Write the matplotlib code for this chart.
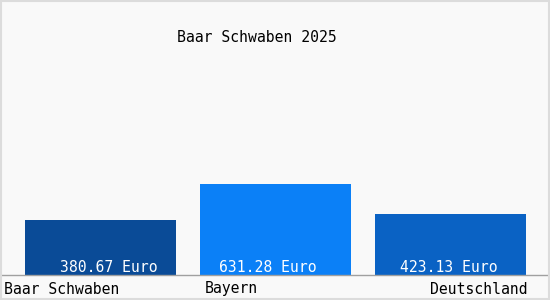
import numpy as np
import matplotlib
matplotlib.use('Agg')
import matplotlib.pyplot as plt

TITLE = 'Baar Schwaben 2025'
regions = ['Baar Schwaben', 'Bayern', 'Deutschland']
values = [380.67, 631.28, 423.13]
colors = ['#0a4b97', '#0b80f7', '#0a62c4']

plt.rcParams['font.family'] = ['DejaVu Sans Mono']
FS = 10.6

fig = plt.figure(figsize=(5.5, 3), dpi=100)
fig.patch.set_facecolor('#f9f9f9')

# plot area: full width, baseline 25 px above the bottom
ax = fig.add_axes([0, 25 / 300, 1, 250 / 300])
ax.set_facecolor('#f9f9f9')
for s in ax.spines.values():
    s.set_visible(False)
ax.spines['bottom'].set_visible(True)
ax.spines['bottom'].set_color('#a0a0a0')
ax.spines['bottom'].set_linewidth(1)

x = np.arange(len(values))
ax.bar(x, values, width=151 / 175, color=colors)
ax.set_xlim(-100.5 / 175, 449.5 / 175)
ax.set_ylim(0, max(values) * 2.75)
ax.set_xticks([])
ax.set_yticks([])

# value labels inside the bars, near the baseline
label_shift = [0.046, -0.043, -0.008]
for i, v in enumerate(values):
    ax.text(x[i] + label_shift[i], 2.5 / 250, f'{v:.2f} Euro',
            transform=ax.get_xaxis_transform(),
            color='white', fontsize=FS, ha='center', va='baseline')

# category labels under the axis
tr = ax.get_xaxis_transform()
ax.text(-96.5 / 175, -18.5 / 250, regions[0], transform=tr,
        fontsize=FS, ha='left', va='baseline')
ax.text(1 - 70.5 / 175, -18.5 / 250, regions[1], transform=tr,
        fontsize=FS, ha='left', va='baseline')
ax.text(2 + 77.5 / 175, -18.5 / 250, regions[2], transform=tr,
        fontsize=FS, ha='right', va='baseline')

fig.text(0.5 - 18.5 / 550, 1 - 38 / 300, TITLE, fontsize=FS, ha='center', va='center')

# thin frame round the picture
fig.patches.append(plt.Rectangle((0.001, 0.002), 0.997, 0.995, transform=fig.transFigure,
                                 fill=False, edgecolor='#dcdcdc', linewidth=1.5))

fig.savefig('out.png', dpi=100, facecolor=fig.get_facecolor())
